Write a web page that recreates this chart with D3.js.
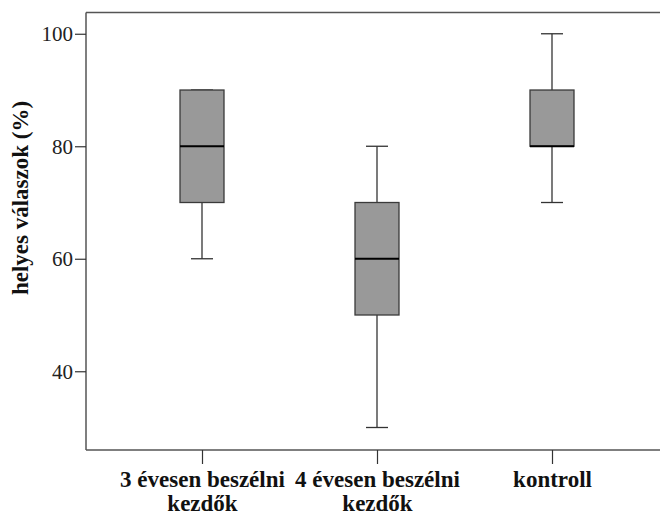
<!DOCTYPE html>
<html><head><meta charset="utf-8">
<script src="https://cdn.jsdelivr.net/npm/d3@7"></script>
<style>body{margin:0;background:#fff}svg{display:block}
svg text{font-family:'Liberation Serif','Times New Roman','DejaVu Serif',serif;}</style>
</head><body>
<script>
const categories = [["3 évesen beszélni","kezdők"],["4 évesen beszélni","kezdők"],["kontroll"]];
const whiskerLow = [60, 30, 70];
const q1 = [70, 50, 80];
const median = [80, 60, 80];
const q3 = [90, 70, 90];
const whiskerHigh = [90, 80, 100];
const yTicks = [40, 60, 80, 100];
const yLabel = "helyes válaszok (%)";

(function () {
const W = 660, H = 516;
const pLeft = 86, pTop = 12.5, pBottom = 450, pRight = 662;
const svg = d3.select("body").append("svg").attr("width", W).attr("height", H);

const x = d3.scalePoint().domain(d3.range(categories.length)).range([202, 552]);
const y = d3.scaleLinear().domain([26, 103.78]).range([pBottom, pTop]);
const bw = 44, cw = 22;

// frame top
svg.append("line").attr("x1", pLeft).attr("x2", pRight).attr("y1", pTop).attr("y2", pTop)
  .attr("stroke", "#555").attr("stroke-width", 1.5);

// y axis
const yAxis = svg.append("g").attr("transform", `translate(${pLeft},0)`)
  .call(d3.axisLeft(y).tickValues(yTicks).tickSize(11).tickPadding(2).tickSizeOuter(0));
yAxis.attr("font-family", null);
yAxis.select(".domain").attr("stroke", "#555").attr("stroke-width", 1.5)
  .attr("d", `M0,${pTop}V${pBottom}`);
yAxis.selectAll(".tick line").attr("stroke", "#333").attr("stroke-width", 1.2);
yAxis.selectAll(".tick text")
  .attr("font-size", 21).attr("fill", "#222").attr("dy", "0.34em");

// x axis
const xAxis = svg.append("g").attr("transform", `translate(0,${pBottom})`)
  .call(d3.axisBottom(x).tickSize(14).tickSizeOuter(0).tickFormat(""));
xAxis.attr("font-family", null);
xAxis.select(".domain").attr("stroke", "#555").attr("stroke-width", 1.5)
  .attr("d", `M${pLeft},0H${pRight}`);
xAxis.selectAll(".tick line").attr("stroke", "#333").attr("stroke-width", 1.2);
xAxis.selectAll(".tick").each(function(d, i) {
  const t = d3.select(this).append("text")
    .attr("font-size", 23).attr("font-weight", "bold").attr("fill", "#111")
    .attr("text-anchor", "middle").attr("y", 37);
  categories[i].forEach((line, j) => {
    t.append("tspan").attr("x", 0).attr("dy", j === 0 ? 0 : 24).text(line);
  });
});

// y label
svg.append("text")
  .attr("transform", `translate(28,198) rotate(-90)`)
  .attr("text-anchor", "middle")
  .attr("font-size", 23).attr("font-weight", "bold").attr("fill", "#111")
  .text(yLabel);

// boxes
const g = svg.append("g");
categories.forEach((c, i) => {
  const cx = x(i);
  const gi = g.append("g");
  if (whiskerHigh[i] > q3[i]) {
    gi.append("line").attr("x1", cx).attr("x2", cx).attr("y1", y(q3[i])).attr("y2", y(whiskerHigh[i]))
      .attr("stroke", "#333").attr("stroke-width", 1.3);
  }
  gi.append("line").attr("x1", cx - cw / 2).attr("x2", cx + cw / 2).attr("y1", y(whiskerHigh[i])).attr("y2", y(whiskerHigh[i]))
    .attr("stroke", "#333").attr("stroke-width", 1.3);
  gi.append("line").attr("x1", cx).attr("x2", cx).attr("y1", y(q1[i])).attr("y2", y(whiskerLow[i]))
    .attr("stroke", "#333").attr("stroke-width", 1.3);
  gi.append("line").attr("x1", cx - cw / 2).attr("x2", cx + cw / 2).attr("y1", y(whiskerLow[i])).attr("y2", y(whiskerLow[i]))
    .attr("stroke", "#333").attr("stroke-width", 1.3);
  gi.append("rect").attr("x", cx - bw / 2).attr("y", y(q3[i])).attr("width", bw)
    .attr("height", y(q1[i]) - y(q3[i])).attr("fill", "#999").attr("stroke", "#3a3a3a").attr("stroke-width", 1.3);
  gi.append("line").attr("x1", cx - bw / 2).attr("x2", cx + bw / 2).attr("y1", y(median[i])).attr("y2", y(median[i]))
    .attr("stroke", "#000").attr("stroke-width", 2.2);
});
})();
</script>
</body></html>
